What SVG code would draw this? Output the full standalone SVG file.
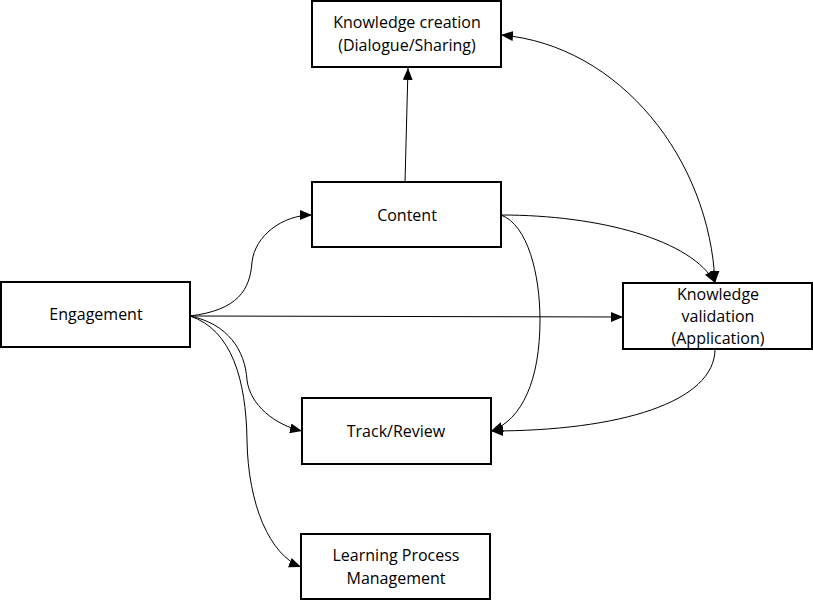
<svg xmlns="http://www.w3.org/2000/svg" width="813" height="602" viewBox="0 0 813 602">
<style>
.box{fill:#fff;stroke:#000;stroke-width:2}
.lbl{font-family:"Open Sans","Noto Sans",sans-serif;font-size:16px;fill:#000;text-anchor:middle}
.c{fill:none;stroke:#000;stroke-width:1}
</style>
<defs>
<marker id="ah" viewBox="0 0 12 10" refX="12" refY="5" markerWidth="12" markerHeight="10" markerUnits="userSpaceOnUse" orient="auto-start-reverse">
<path d="M0,0 L12,5 L0,10 Z" fill="#000"/>
</marker>
</defs>
<rect width="813" height="602" fill="#fff"/>
<g id="connectors">
<path class="c" d="M405,182 L408,68" marker-end="url(#ah)"/>
<path class="c" d="M190,316 C238,310 250,290 252,262 C255,236 282,215 312,215" marker-end="url(#ah)"/>
<path class="c" d="M190,316 L623,317" marker-end="url(#ah)"/>
<path class="c" d="M190,316 C228,324 245,350 247,380 C250,405 275,425 302,431" marker-end="url(#ah)"/>
<path class="c" d="M190,316 C232,330 246,380 247,440 C248,505 270,555 301,567" marker-end="url(#ah)"/>
<path class="c" d="M501,215 C600,215 692,240 715,283" marker-end="url(#ah)"/>
<path class="c" d="M501,215 C528,225 540,275 540,320 C540,380 522,420 491,431" marker-end="url(#ah)"/>
<path class="c" d="M715,349 C715,402 620,431 491,431" marker-end="url(#ah)"/>
<path class="c" d="M501,35 C620,45 710,160 715,283" marker-start="url(#ah)" marker-end="url(#ah)"/>
</g>
<g id="knowledge-creation">
<rect class="box" x="312" y="1" width="189" height="66"/>
<text class="lbl" x="407" y="28">Knowledge creation</text>
<text class="lbl" x="407" y="51">(Dialogue/Sharing)</text>
</g>
<g id="content">
<rect class="box" x="312" y="182" width="189" height="65"/>
<text class="lbl" x="407" y="221">Content</text>
</g>
<g id="engagement">
<rect class="box" x="1" y="282" width="189" height="65"/>
<text class="lbl" x="96" y="320">Engagement</text>
</g>
<g id="knowledge-validation">
<rect class="box" x="623" y="283" width="189" height="66"/>
<text class="lbl" x="718" y="300">Knowledge</text>
<text class="lbl" x="718" y="322">validation</text>
<text class="lbl" x="718" y="344">(Application)</text>
</g>
<g id="track-review">
<rect class="box" x="302" y="398" width="189" height="66"/>
<text class="lbl" x="396" y="437">Track/Review</text>
</g>
<g id="learning-process-management">
<rect class="box" x="301" y="534" width="189" height="65"/>
<text class="lbl" x="396" y="561">Learning Process</text>
<text class="lbl" x="396" y="584">Management</text>
</g>
</svg>
